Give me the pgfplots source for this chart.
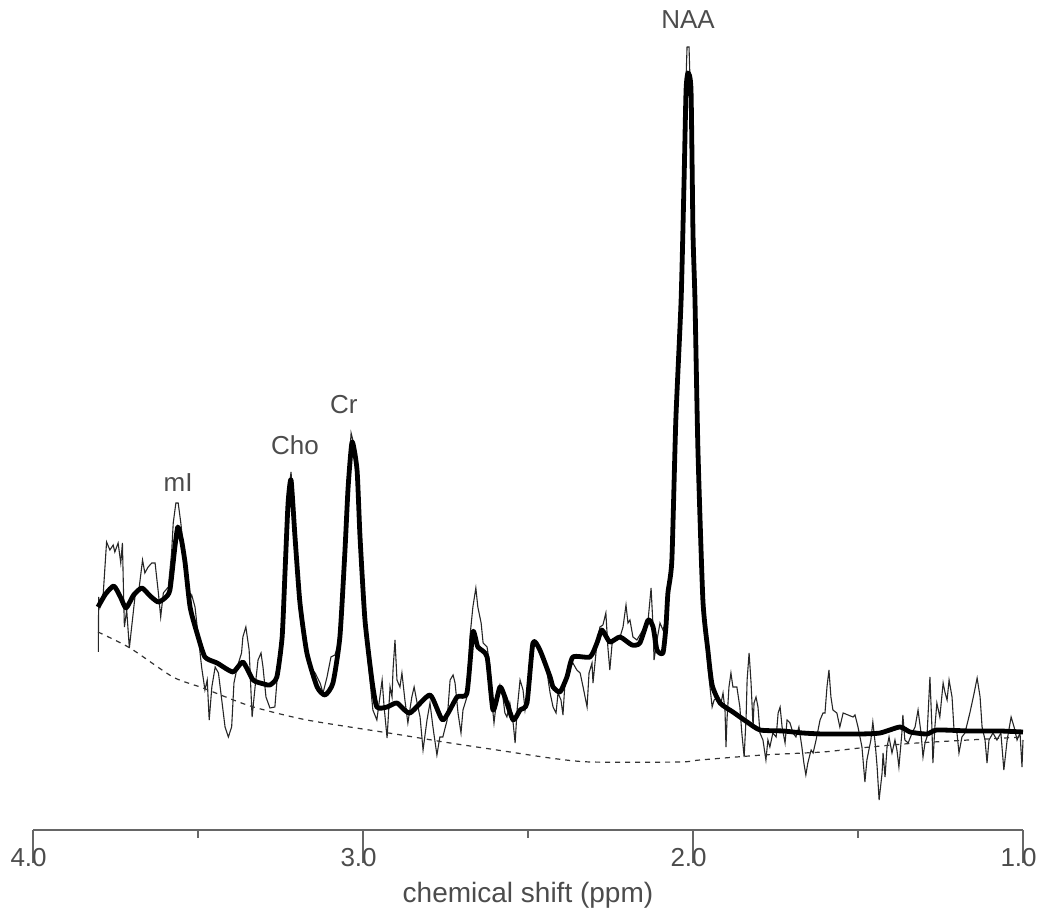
\documentclass[border=0pt]{standalone}
\usepackage{fontspec}
\setmainfont{Liberation Sans}
\usepackage{pgfplots}
\pgfplotsset{compat=1.18}
\definecolor{txt}{gray}{0.3}
\definecolor{axc}{gray}{0.4}

\pgfplotstableread{
ppm I
3.802 178
3.801 233
3.797 223
3.787 237
3.777 288
3.767 280
3.757 285
3.752 278
3.742 287
3.734 267
3.729 287
3.726 243
3.723 203
3.716 220
3.708 182
3.701 203
3.691 233
3.678 243
3.668 270
3.661 257
3.651 263
3.640 267
3.630 267
3.620 237
3.613 213
3.605 237
3.590 243
3.580 277
3.575 307
3.567 327
3.560 327
3.552 307
3.539 267
3.529 227
3.519 235
3.509 223
3.499 193
3.489 163
3.479 140
3.472 150
3.466 110
3.458 143
3.448 163
3.438 157
3.428 130
3.418 103
3.408 93
3.398 103
3.391 147
3.381 163
3.368 177
3.364 193
3.355 203
3.345 180
3.336 113
3.327 143
3.318 170
3.309 177
3.303 163
3.294 133
3.282 122
3.267 123
3.258 160
3.245 205
3.236 270
3.227 335
3.218 358
3.209 310
3.200 250
3.188 210
3.176 185
3.161 163
3.145 157
3.130 147
3.121 137
3.109 153
3.097 173
3.085 175
3.076 185
3.064 230
3.055 280
3.045 350
3.036 397
3.027 385
3.018 355
3.009 290
2.997 220
2.985 170
2.973 130
2.970 120
2.958 110
2.942 150
2.936 123
2.927 92
2.918 143
2.912 133
2.909 160
2.903 190
2.897 150
2.888 143
2.882 157
2.873 130
2.864 107
2.852 133
2.845 143
2.836 127
2.827 113
2.818 80
2.806 110
2.797 127
2.788 103
2.776 75
2.767 93
2.758 93
2.745 110
2.736 150
2.727 155
2.721 147
2.712 117
2.703 97
2.697 120
2.685 133
2.676 193
2.667 223
2.658 242
2.652 223
2.642 207
2.636 187
2.624 183
2.615 163
2.609 127
2.603 107
2.594 133
2.585 145
2.576 133
2.570 117
2.564 113
2.555 127
2.545 107
2.539 87
2.533 120
2.524 150
2.515 140
2.509 120
2.503 133
2.494 160
2.485 187
2.470 183
2.455 170
2.442 157
2.433 137
2.424 123
2.415 117
2.409 137
2.400 130
2.394 115
2.388 147
2.379 160
2.364 167
2.352 160
2.342 157
2.333 143
2.321 123
2.315 157
2.306 167
2.303 147
2.291 187
2.282 203
2.273 205
2.264 217
2.258 183
2.252 160
2.245 187
2.236 190
2.221 193
2.212 203
2.203 225
2.197 207
2.191 210
2.182 193
2.170 190
2.152 200
2.136 210
2.127 242
2.121 203
2.118 170
2.109 190
2.100 207
2.091 200
2.082 210
2.076 237
2.064 280
2.052 420
2.039 520
2.030 630
2.024 720
2.018 783
2.012 783
2.009 750
2.003 690
1.997 540
1.988 390
1.979 290
1.970 230
1.955 163
1.942 123
1.936 130
1.924 133
1.915 127
1.909 137
1.903 120
1.900 83
1.897 110
1.891 143
1.885 157
1.879 143
1.867 143
1.858 123
1.852 97
1.845 73
1.839 113
1.836 150
1.830 177
1.824 147
1.818 103
1.815 127
1.809 133
1.803 123
1.797 97
1.788 90
1.779 70
1.773 90
1.767 83
1.758 97
1.748 93
1.742 117
1.736 123
1.730 103
1.721 87
1.715 110
1.706 107
1.697 97
1.688 93
1.679 103
1.670 83
1.664 67
1.658 55
1.652 67
1.642 80
1.636 77
1.627 90
1.615 110
1.606 117
1.600 117
1.594 143
1.588 160
1.582 133
1.576 120
1.564 117
1.555 103
1.545 117
1.530 115
1.515 113
1.509 115
1.500 103
1.488 83
1.479 48
1.473 70
1.461 90
1.455 108
1.448 87
1.442 63
1.436 30
1.427 57
1.424 77
1.418 53
1.412 83
1.406 93
1.397 77
1.388 90
1.382 80
1.376 63
1.367 97
1.364 115
1.358 90
1.348 87
1.336 97
1.327 103
1.318 120
1.309 97
1.303 73
1.297 87
1.291 93
1.282 153
1.276 103
1.273 67
1.267 103
1.261 127
1.252 113
1.242 147
1.236 137
1.230 130
1.224 150
1.215 133
1.209 100
1.200 97
1.194 77
1.185 93
1.176 97
1.161 117
1.148 137
1.139 152
1.130 133
1.124 103
1.115 90
1.109 67
1.103 90
1.091 97
1.079 90
1.067 97
1.058 60
1.048 90
1.036 113
1.027 103
1.018 90
1.009 97
1.003 63
1.000 90
}\rawdata

\pgfplotstableread{
ppm I
3.803 223
3.780 236
3.755 244
3.735 233
3.718 222
3.695 235
3.670 242
3.645 234
3.621 228
3.600 232
3.585 240
3.570 283
3.561 303
3.550 290
3.539 267
3.524 223
3.503 197
3.479 173
3.442 167
3.394 158
3.364 168
3.333 150
3.300 146
3.282 145
3.261 153
3.245 193
3.236 260
3.227 327
3.218 350
3.206 293
3.191 227
3.170 177
3.139 143
3.115 135
3.091 147
3.070 193
3.055 277
3.045 343
3.033 388
3.018 360
3.009 293
2.994 210
2.973 150
2.958 123
2.927 123
2.897 127
2.858 117
2.797 135
2.758 110
2.715 133
2.685 137
2.667 198
2.652 183
2.624 173
2.606 120
2.585 143
2.570 133
2.545 110
2.524 120
2.503 127
2.485 187
2.464 180
2.433 153
2.424 143
2.403 138
2.382 153
2.364 173
2.312 173
2.291 187
2.276 200
2.252 188
2.221 193
2.185 185
2.161 187
2.136 210
2.121 203
2.109 180
2.091 177
2.082 203
2.076 237
2.064 270
2.052 410
2.036 530
2.027 650
2.021 740
2.015 757
2.006 740
2.000 597
1.994 530
1.985 380
1.970 230
1.955 180
1.942 145
1.918 127
1.879 118
1.836 108
1.797 100
1.727 99
1.667 97
1.606 96
1.494 96
1.433 97
1.373 103
1.342 98
1.291 96
1.261 100
1.161 99
1.070 99
1.000 98
}\fitdata

\pgfplotstableread{
ppm I
3.803 198
3.706 182
3.576 153
3.485 142
3.342 124
3.170 110
2.903 96
2.736 87
2.594 80
2.433 72
2.312 68
2.039 68
1.979 70
1.788 75
1.606 78
1.494 82
1.321 87
1.000 93
}\basedata

\begin{document}
\begin{tikzpicture}
\begin{axis}[
  scale only axis, width=495pt, height=415pt,
  xmin=1, xmax=4, ymin=0, ymax=830, x dir=reverse,
  axis x line*=bottom, axis y line=none, ytick=\empty,
  xtick={4,3,2,1}, xticklabels={4.0,3.0,2.0,1.0},
  minor xtick={3.5,2.5,1.5},
  tick align=outside, tick pos=bottom,
  major tick length=16.5pt, minor tick length=4pt,
  every tick/.style={axc, line width=0.6pt},
  x axis line style={axc, line width=0.7pt},
  xticklabel style={font=\fontsize{13}{13}\selectfont, text=txt, anchor=center, yshift=2.5pt, xshift=-2.2pt},
  xlabel={chemical shift (ppm)},
  xlabel style={font=\fontsize{14}{14}\selectfont, text=txt, at={(axis description cs:0.5,0)}, anchor=center, yshift=-32.5pt},
  clip=false,
]
\addplot[black!85, line width=0.55pt] table[x=ppm, y=I] {\rawdata};
\addplot[black!80, line width=0.6pt, dash pattern=on 2.5pt off 2.5pt, smooth, tension=0.4] table[x=ppm, y=I] {\basedata};
\addplot[black, line width=2.4pt, line join=round, smooth, tension=0.35] table[x=ppm, y=I] {\fitdata};
\node[font=\fontsize{13}{13}\selectfont, text=txt] at (axis cs:3.560,347) {mI};
\node[font=\fontsize{13}{13}\selectfont, text=txt] at (axis cs:3.206,385) {Cho};
\node[font=\fontsize{13}{13}\selectfont, text=txt] at (axis cs:3.058,425) {Cr};
\node[font=\fontsize{13}{13}\selectfont, text=txt] at (axis cs:2.015,810) {NAA};
\coordinate (bbl) at (axis cs:4.1,-94);
\coordinate (btr) at (axis cs:0.9212,830);
\end{axis}
\pgfresetboundingbox
\path[use as bounding box] (bbl) rectangle (btr);
\end{tikzpicture}
\end{document}
